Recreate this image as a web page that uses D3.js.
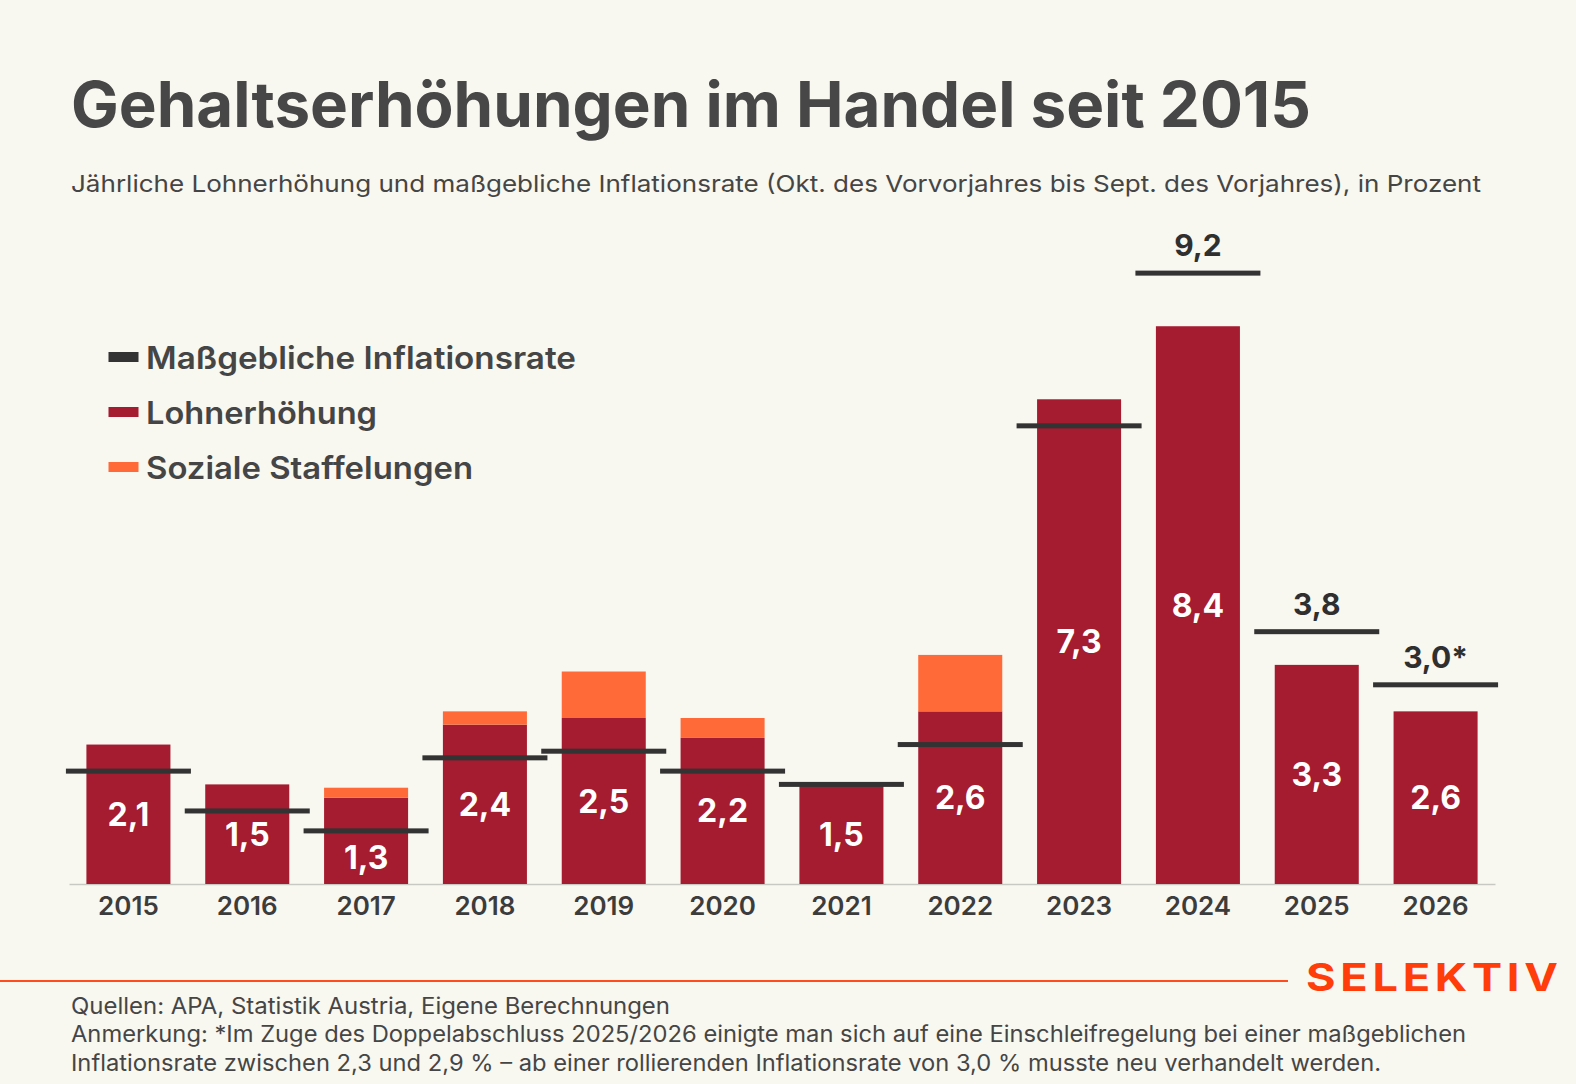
<!DOCTYPE html>
<html>
<head>
<meta charset="utf-8">
<script src="https://cdn.jsdelivr.net/npm/d3@7"></script>
<style>
  html, body { margin: 0; padding: 0; background: #f8f7f0; }
  svg { display: block; font-family: Inter, "Open Sans", sans-serif; }
</style>
</head>
<body>
<svg id="chart" width="1576" height="1084"></svg>
<script>
// data
const years      = ['2015', '2016', '2017', '2018', '2019', '2020', '2021', '2022', '2023', '2024', '2025', '2026'];
const lohn       = [2.1, 1.5, 1.3, 2.4, 2.5, 2.2, 1.5, 2.6, 7.3, 8.4, 3.3, 2.6];
const staffel    = [0, 0, 0.15, 0.2, 0.7, 0.3, 0, 0.85, 0, 0, 0, 0];
const inflation  = [1.7, 1.1, 0.8, 1.9, 2.0, 1.7, 1.5, 2.1, 6.9, 9.2, 3.8, 3.0];
const inflNote   = ['', '', '', '', '', '', '', '', '', '', '', '*'];
const legendLabels = ['Maßgebliche Inflationsrate', 'Lohnerhöhung', 'Soziale Staffelungen'];

const colRed = '#a51b30', colOrange = '#ff6a38', colLine = '#333333', colText = '#454545';

const svg = d3.select('#chart');
svg.append('rect').attr('width', 1576).attr('height', 1084).attr('fill', '#f8f7f0');

const fmt = v => d3.format('.1f')(v).replace('.', ',');

// scales
const x = d3.scaleBand()
	.domain(years)
	.range([69, 1495])
	.paddingInner(0.293)
	.paddingOuter(0.1465);
const y = d3.scaleLinear()
	.domain([0, 9.2])
	.range([884, 884 - 9.2 * 66.4]);

// titles
svg.append('text')
	.attr('x', 71).attr('y', 127)
	.attr('font-size', 63).attr('font-weight', 700)
	.attr('fill', '#474747')
	.attr('textLength', 1240).attr('lengthAdjust', 'spacingAndGlyphs')
	.text('Gehaltserhöhungen im Handel seit 2015');
svg.append('text')
	.attr('x', 71).attr('y', 192)
	.attr('font-size', 23.5)
	.attr('fill', colText)
	.attr('textLength', 1410).attr('lengthAdjust', 'spacingAndGlyphs')
	.text('Jährliche Lohnerhöhung und maßgebliche Inflationsrate (Okt. des Vorvorjahres bis Sept. des Vorjahres), in Prozent');

// legend
const legendCols = [colLine, colRed, colOrange];
const legendWidths = [430, 231, 327];
const legend = svg.append('g').attr('transform', 'translate(108.5, 357)');
legendLabels.forEach((l, i) => {
	const g = legend.append('g').attr('transform', `translate(0, ${i * 55})`);
	g.append('rect').attr('x', 0).attr('y', -5).attr('width', 30).attr('height', 10).attr('fill', legendCols[i]);
	g.append('text').attr('x', 37.5).attr('y', 11.5)
		.attr('font-size', 31).attr('font-weight', 600).attr('fill', colText)
		.attr('textLength', legendWidths[i]).attr('lengthAdjust', 'spacingAndGlyphs')
		.text(l);
});

const chart = svg.append('g');

// axis
const axis = chart.append('g')
	.attr('transform', `translate(0, ${y(0)})`)
	.call(d3.axisBottom(x).tickSize(0).tickPadding(13));
axis.select('.domain').attr('stroke', '#c9c9c4').attr('stroke-width', 1.5);
axis.selectAll('text')
	.attr('font-family', 'Inter, sans-serif')
	.attr('font-size', 26).attr('font-weight', 600).attr('fill', '#3c3c3c');

// bars
chart.selectAll('rect.lohn')
	.data(years)
	.enter().append('rect')
	.attr('class', 'lohn')
	.attr('x', d => x(d))
	.attr('width', x.bandwidth())
	.attr('y', (d, i) => y(lohn[i]))
	.attr('height', (d, i) => y(0) - y(lohn[i]))
	.attr('fill', colRed);

chart.selectAll('rect.staffel')
	.data(years.filter((d, i) => staffel[i] > 0))
	.enter().append('rect')
	.attr('class', 'staffel')
	.attr('x', d => x(d))
	.attr('width', x.bandwidth())
	.attr('y', d => { const i = years.indexOf(d); return y(lohn[i] + staffel[i]); })
	.attr('height', d => { const i = years.indexOf(d); return y(lohn[i]) - y(lohn[i] + staffel[i]); })
	.attr('fill', colOrange);

// inflation markers
const lineW = 125;
chart.selectAll('rect.infl')
	.data(years)
	.enter().append('rect')
	.attr('class', 'infl')
	.attr('x', d => x(d) + x.bandwidth() / 2 - lineW / 2)
	.attr('width', lineW)
	.attr('y', (d, i) => y(inflation[i]) - 2.5)
	.attr('height', 5)
	.attr('fill', colLine);

// value labels inside bars
chart.selectAll('text.val')
	.data(years)
	.enter().append('text')
	.attr('class', 'val')
	.attr('x', d => x(d) + x.bandwidth() / 2)
	.attr('y', (d, i) => {
		let mid = (y(lohn[i]) + y(0)) / 2;
		if (Math.abs(mid - y(inflation[i])) < 15) mid = (y(inflation[i]) + y(0)) / 2;
		return mid;
	})
	.attr('dy', '0.36em')
	.attr('text-anchor', 'middle')
	.attr('font-size', 32).attr('font-weight', 700).attr('fill', '#ffffff')
	.text((d, i) => fmt(lohn[i]));

// inflation labels where the line sits above the bar
chart.selectAll('text.infl')
	.data(years.filter((d, i) => inflation[i] > lohn[i] + staffel[i] + 0.1))
	.enter().append('text')
	.attr('class', 'infl')
	.attr('x', d => x(d) + x.bandwidth() / 2)
	.attr('y', d => y(inflation[years.indexOf(d)]) - 17)
	.attr('text-anchor', 'middle')
	.attr('font-size', 30).attr('font-weight', 700).attr('fill', '#2f2f2f')
	.text(d => { const i = years.indexOf(d); return fmt(inflation[i]) + inflNote[i]; });

// footer
svg.append('line')
	.attr('x1', 0).attr('x2', 1288).attr('y1', 981).attr('y2', 981)
	.attr('stroke', '#ff4d1f').attr('stroke-width', 2);
const logo = svg.append('text')
	.attr('x', 0).attr('y', 0)
	.attr('font-size', 38).attr('font-weight', 700)
	.attr('letter-spacing', 4)
	.attr('fill', '#ff3d0a')
	.text('SELEKTIV');
const logoW = logo.node().getComputedTextLength() - 4;
logo.attr('transform', `translate(1306, 991) scale(${252 / logoW}, 1)`);

const notes = [
	'Quellen: APA, Statistik Austria, Eigene Berechnungen',
	'Anmerkung: *Im Zuge des Doppelabschluss 2025/2026 einigte man sich auf eine Einschleifregelung bei einer maßgeblichen',
	'Inflationsrate zwischen 2,3 und 2,9 % – ab einer rollierenden Inflationsrate von 3,0 % musste neu verhandelt werden.'
];
const noteWidths = [599, 1395, 1310];
svg.selectAll('text.note')
	.data(notes)
	.enter().append('text')
	.attr('class', 'note')
	.attr('x', 71)
	.attr('y', (d, i) => 1014 + i * 28.4)
	.attr('font-size', 22.5)
	.attr('fill', colText)
	.attr('textLength', (d, i) => noteWidths[i]).attr('lengthAdjust', 'spacingAndGlyphs')
	.text(d => d);
</script>
</body>
</html>
